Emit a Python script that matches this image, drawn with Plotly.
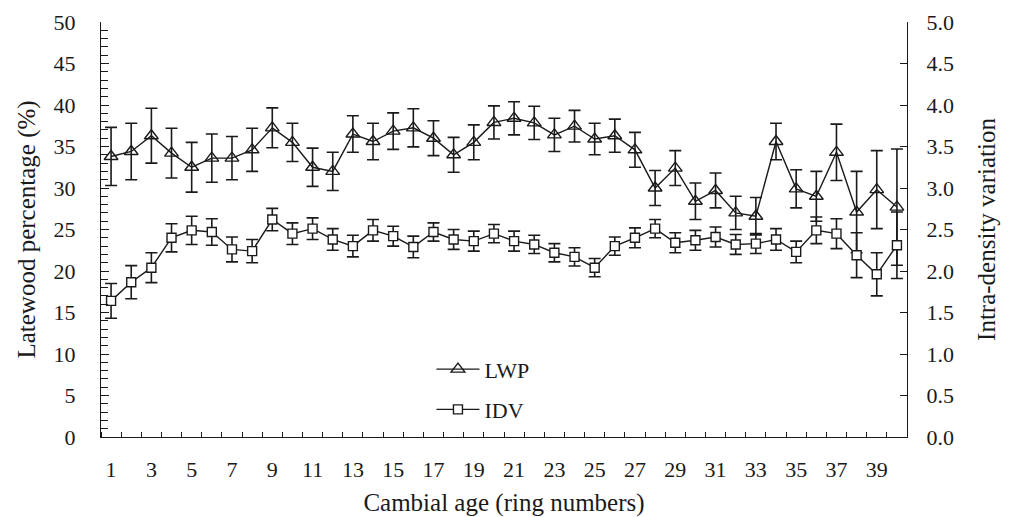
import plotly.graph_objects as go

# Cambial age (ring number) 1..40
rings = list(range(1, 41))

# Latewood percentage (%) with standard errors
lwp = [33.8, 34.4, 36.3, 34.2, 32.5, 33.6, 33.6, 34.6, 37.25, 35.5,
       32.5, 32.0, 36.5, 35.6, 36.85, 37.25, 36.0, 34.0, 35.5, 37.9,
       38.4, 37.85, 36.4, 37.45, 35.9, 36.3, 34.6, 30.0, 32.4, 28.4,
       29.7, 27.0, 26.6, 35.6, 29.9, 29.0, 34.3, 27.1, 29.8, 27.7]
lwp_err = [3.5, 3.4, 3.3, 3.0, 3.0, 2.9, 2.6, 2.6, 2.4, 2.3,
           2.3, 2.3, 2.2, 2.2, 2.2, 2.3, 2.1, 2.1, 2.1, 2.0,
           2.0, 2.0, 2.0, 1.9, 1.9, 2.0, 2.1, 2.1, 2.1, 2.2,
           2.1, 2.0, 2.25, 2.2, 2.3, 3.0, 3.4, 4.9, 4.7, 7.0]

# Intra-density variation with standard errors
idv = [1.64, 1.865, 2.04, 2.40, 2.49, 2.47, 2.26, 2.24, 2.62, 2.45,
       2.51, 2.38, 2.30, 2.49, 2.42, 2.29, 2.47, 2.38, 2.36, 2.45,
       2.36, 2.32, 2.22, 2.17, 2.04, 2.30, 2.40, 2.51, 2.34, 2.37,
       2.41, 2.32, 2.33, 2.38, 2.23, 2.49, 2.45, 2.19, 1.96, 2.31]
idv_err = [0.21, 0.20, 0.18, 0.17, 0.17, 0.16, 0.15, 0.14, 0.135, 0.13,
           0.13, 0.13, 0.13, 0.13, 0.12, 0.13, 0.11, 0.12, 0.12, 0.11,
           0.12, 0.11, 0.11, 0.11, 0.11, 0.11, 0.12, 0.11, 0.12, 0.12,
           0.12, 0.12, 0.12, 0.13, 0.13, 0.16, 0.18, 0.27, 0.26, 0.40]

x_tick_labels = [str(v) for v in range(1, 40, 2)]

INK = "#1a1a1a"
FONT = "Liberation Serif, Times New Roman, Times, serif"

fig = go.Figure()

fig.add_trace(go.Scatter(
    x=rings, y=lwp, name="LWP", mode="lines+markers",
    line=dict(color=INK, width=1.4),
    marker=dict(symbol="triangle-up-open", size=12, color=INK,
                line=dict(color=INK, width=1.4)),
    error_y=dict(type="data", array=lwp_err, visible=True,
                 color=INK, thickness=1.6, width=6),
    legend="legend", showlegend=True,
))

fig.add_trace(go.Scatter(
    x=rings, y=idv, name="IDV", mode="lines+markers", yaxis="y2",
    line=dict(color=INK, width=1.4),
    marker=dict(symbol="square", size=9, color="white",
                line=dict(color=INK, width=1.4)),
    error_y=dict(type="data", array=idv_err, visible=True,
                 color=INK, thickness=1.6, width=6),
    legend="legend2", showlegend=True,
))

fig.update_layout(
    width=1011, height=517,
    showlegend=True,
    margin=dict(l=101, r=104, t=22, b=80, autoexpand=False),
    plot_bgcolor="white", paper_bgcolor="white",
    font=dict(family=FONT, size=22, color=INK),
    xaxis=dict(
        range=[0.5, 40.5], tickmode="array",
        tickvals=list(range(1, 40, 2)), ticktext=x_tick_labels,
        ticks="", showgrid=False, zeroline=False,
        showline=True, linecolor=INK, linewidth=1.4,
        minor=dict(tick0=0.5, dtick=1, ticks="inside", ticklen=5,
                   tickcolor=INK, tickwidth=1.2, showgrid=False),
        ticklabelstandoff=12, automargin=False,
        tickfont=dict(family=FONT, size=22),
        title=dict(text="Cambial age (ring numbers)",
                   font=dict(family=FONT, size=25), standoff=16),
    ),
    yaxis=dict(
        range=[0, 50], dtick=5, tick0=0,
        ticks="inside", ticklen=8, tickcolor=INK, tickwidth=1.2,
        minor=dict(dtick=1, ticks="inside", ticklen=7,
                   tickcolor=INK, tickwidth=1.2, showgrid=False),
        showgrid=False, zeroline=False,
        showline=True, linecolor=INK, linewidth=1.4,
        ticklabelstandoff=20, automargin=False,
        tickfont=dict(family=FONT, size=22),
        title=dict(text="Latewood percentage (%)",
                   font=dict(family=FONT, size=25), standoff=10),
    ),
    yaxis2=dict(
        range=[0, 5], dtick=0.5, tick0=0, tickformat=".1f",
        overlaying="y", side="right",
        ticks="inside", ticklen=7, tickcolor=INK, tickwidth=1.2,
        showgrid=False, zeroline=False,
        showline=True, linecolor=INK, linewidth=1.4,
        ticklabelstandoff=14, automargin=False,
        tickfont=dict(family=FONT, size=22),
        title=dict(text="Intra-density variation",
                   font=dict(family=FONT, size=25), standoff=24),
    ),
    legend=dict(x=0.41, y=0.163, xanchor="left", yanchor="middle",
                itemwidth=43,
                bgcolor="rgba(0,0,0,0)", font=dict(family=FONT, size=22)),
    legend2=dict(x=0.41, y=0.066, xanchor="left", yanchor="middle",
                 itemwidth=43,
                 bgcolor="rgba(0,0,0,0)", font=dict(family=FONT, size=22)),
)

fig.write_html("out.html")
